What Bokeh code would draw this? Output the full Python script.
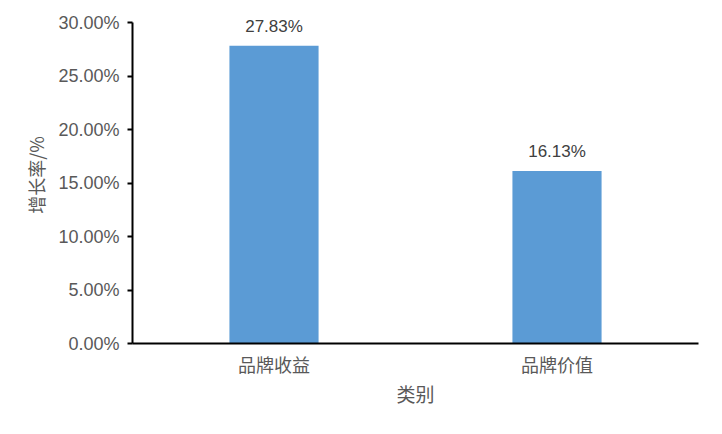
from bokeh.plotting import figure
from bokeh.models import Range1d, NumeralTickFormatter, FixedTicker, ColumnDataSource
from bokeh.core.properties import value
from bokeh.embed import file_html
from bokeh.resources import INLINE

categories = ["品牌收益", "品牌价值"]
growth = [0.2783, 0.1613]
labels = ["27.83%", "16.13%"]
y_ticks = [0.0, 0.05, 0.10, 0.15, 0.20, 0.25, 0.30]
y_title = "增长率/%"
x_title = "类别"

src = ColumnDataSource(dict(cat=categories, val=growth, lab=labels))

p = figure(x_range=categories, y_range=Range1d(0, 0.315), width=706, height=418,
           output_backend="svg", toolbar_location=None,
           min_border_left=132, min_border_right=8, min_border_top=6, min_border_bottom=75)
p.outline_line_color = None
p.xgrid.grid_line_color = None
p.ygrid.grid_line_color = None
p.background_fill_color = "white"
p.border_fill_color = "white"

p.vbar(x="cat", top="val", width=0.315, source=src, fill_color="#5B9BD5", line_color=None)
p.text(x="cat", y="val", text="lab", source=src, text_align="center", text_baseline="bottom",
       y_offset=-10, text_font=value("Liberation Sans"), text_font_size="17px", text_color="#404040")

p.yaxis.bounds = (0, 0.30)
p.yaxis.ticker = FixedTicker(ticks=y_ticks)
p.yaxis.formatter = NumeralTickFormatter(format="0.00%")
p.yaxis.major_tick_out = 5
p.yaxis.major_tick_in = 0
p.yaxis.minor_tick_line_color = None
p.yaxis.axis_line_width = 2
p.yaxis.major_tick_line_width = 2
p.yaxis.axis_line_color = "black"
p.yaxis.major_label_text_font = "Liberation Sans"
p.yaxis.major_label_text_font_size = "18px"
p.yaxis.major_label_text_color = "#595959"
p.yaxis.major_label_standoff = 8
p.yaxis.axis_label = y_title
p.yaxis.axis_label_text_font = "Noto Sans CJK SC"
p.yaxis.axis_label_text_font_style = "normal"
p.yaxis.axis_label_text_font_size = "18px"
p.yaxis.axis_label_text_color = "#595959"
p.yaxis.axis_label_standoff = 6

p.xaxis.major_tick_line_color = None
p.xaxis.minor_tick_line_color = None
p.xaxis.axis_line_width = 2
p.xaxis.axis_line_color = "black"
p.xaxis.major_label_text_font = "Noto Sans CJK SC"
p.xaxis.major_label_text_font_size = "18px"
p.xaxis.major_label_text_color = "#595959"
p.xaxis.major_label_standoff = 1
p.xaxis.axis_label = x_title
p.xaxis.axis_label_text_font = "Noto Sans CJK SC"
p.xaxis.axis_label_text_font_style = "normal"
p.xaxis.axis_label_text_font_size = "19px"
p.xaxis.axis_label_text_color = "#595959"
p.xaxis.axis_label_standoff = 0

open("out.html", "w").write(file_html(p, INLINE))
